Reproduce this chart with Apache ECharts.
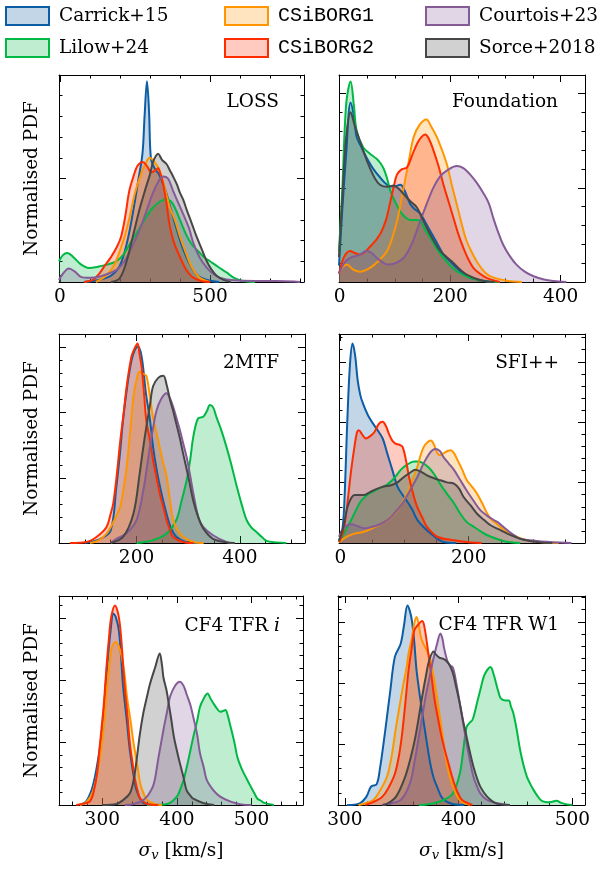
<!DOCTYPE html>
<html><head><meta charset="utf-8">
<script src="https://cdn.jsdelivr.net/npm/echarts@6/dist/echarts.min.js"></script>
<style>html,body{margin:0;padding:0;background:#fff}#c{width:609px;height:871px}</style>
</head><body><div id="c"></div>
<script>
// ---------------- data ----------------
const seriesNames = ['Carrick+15', 'Lilow+24', 'CSiBORG1', 'CSiBORG2', 'Courtois+23', 'Sorce+2018'];
const seriesColors = ['#0C5DA5', '#00B945', '#FF9500', '#FF2C00', '#845B97', '#474747'];
const panelLabels = ['LOSS', 'Foundation', '2MTF', 'SFI++', 'CF4 TFR {i|i}', 'CF4 TFR W1'];
const xMin = [-3, -1, 50, -2, 242, 294];
const xMax = [813, 444, 526, 381, 569, 511];
const xMajorTicks = [[0, 500], [0, 200, 400], [200, 400], [0, 200], [300, 400, 500], [300, 400, 500]];
const xMinorStep = [100, 50, 50, 50, 20, 20];
const yTickStep = [0.1, 0.091, 0.0624, 0.0578, 0.0596, 0.0584];

// LOSS
const loss_carrick = [[80,0],[130,0.01],[170,0.03],[200,0.08],[225,0.2],[245,0.35],[262,0.5],[275,0.62],[282,0.8],[290,0.97],[297,0.82],[303,0.6],[315,0.55],[330,0.52],[350,0.45],[370,0.35],[390,0.25],[410,0.16],[435,0.08],[460,0.03],[490,0.01],[530,0]];
const loss_lilow = [[-3,0.1],[10,0.13],[25,0.14],[45,0.12],[70,0.085],[97,0.068],[130,0.075],[160,0.085],[187,0.1],[210,0.13],[240,0.2],[265,0.26],[290,0.32],[310,0.36],[335,0.39],[355,0.4],[375,0.38],[400,0.3],[420,0.23],[440,0.18],[460,0.15],[480,0.12],[500,0.1],[530,0.07],[556,0.045],[580,0.02],[610,0.005],[650,0]];
const loss_csiborg1 = [[120,0],[153,0.03],[180,0.08],[209,0.19],[230,0.3],[250,0.43],[270,0.52],[285,0.57],[299,0.6],[315,0.58],[332,0.54],[350,0.45],[366,0.36],[383,0.3],[400,0.22],[420,0.14],[440,0.07],[466,0.02],[500,0]];
const loss_csiborg2 = [[80,0],[110,0.01],[131,0.04],[150,0.08],[170,0.12],[190,0.17],[204,0.22],[218,0.32],[231,0.44],[245,0.51],[258,0.56],[276,0.58],[290,0.56],[305,0.53],[318,0.54],[327,0.55],[335,0.52],[343,0.48],[355,0.38],[366,0.27],[380,0.19],[400,0.12],[420,0.06],[440,0.025],[470,0.005],[500,0]];
const loss_courtois = [[-3,0.01],[10,0.04],[30,0.065],[50,0.05],[70,0.025],[100,0.02],[130,0.025],[160,0.04],[190,0.06],[215,0.1],[240,0.17],[265,0.25],[290,0.35],[310,0.43],[330,0.49],[343,0.51],[360,0.5],[377,0.44],[395,0.38],[410,0.33],[430,0.26],[444,0.19],[465,0.12],[489,0.07],[510,0.04],[534,0.02],[580,0.008],[650,0.005],[720,0.005],[780,0.003],[800,0]];
const loss_sorce = [[170,0],[198,0.016],[220,0.09],[243,0.22],[265,0.35],[285,0.45],[300,0.52],[310,0.58],[320,0.61],[327,0.62],[340,0.59],[355,0.57],[366,0.54],[377,0.51],[390,0.47],[400,0.43],[410,0.4],[422,0.35],[440,0.28],[455,0.22],[472,0.16],[489,0.1],[505,0.06],[522,0.03],[545,0.01],[570,0]];

// Foundation
const fnd_carrick = [[-1,0.08],[5,0.35],[12,0.62],[20,0.867],[26,0.8],[31,0.7],[40,0.65],[49,0.6],[60,0.55],[73,0.506],[86,0.47],[98,0.46],[110,0.47],[118,0.44],[128,0.376],[137,0.35],[146,0.33],[155,0.29],[164,0.246],[176,0.19],[188,0.133],[200,0.1],[212,0.068],[224,0.04],[236,0.02],[260,0.005],[280,0]];
const fnd_lilow = [[-1,0.15],[5,0.45],[12,0.86],[20,0.968],[26,0.85],[31,0.73],[43,0.65],[55,0.62],[67,0.595],[75,0.57],[80,0.546],[86,0.5],[92,0.44],[100,0.39],[110,0.34],[120,0.31],[128,0.3],[137,0.3],[146,0.295],[155,0.25],[164,0.214],[176,0.16],[188,0.117],[200,0.08],[212,0.052],[236,0.02],[266,0.003],[290,0]];
const fnd_csiborg1 = [[-1,0.04],[5,0.07],[13,0.084],[25,0.06],[37,0.05],[55,0.068],[70,0.1],[86,0.15],[95,0.21],[104,0.295],[110,0.37],[116,0.457],[125,0.58],[134,0.7],[145,0.76],[157,0.785],[166,0.75],[176,0.7],[185,0.64],[194,0.57],[203,0.47],[212,0.376],[221,0.28],[230,0.198],[240,0.14],[248,0.1],[260,0.055],[272,0.028],[302,0.006],[330,0]];
const fnd_csiborg2 = [[-1,0.04],[8,0.12],[19,0.15],[28,0.14],[37,0.133],[55,0.17],[73,0.23],[84,0.3],[92,0.39],[98,0.46],[104,0.52],[113,0.545],[122,0.554],[131,0.61],[140,0.667],[148,0.7],[155,0.713],[162,0.69],[170,0.635],[179,0.56],[188,0.47],[197,0.39],[206,0.31],[215,0.23],[224,0.165],[233,0.11],[242,0.068],[254,0.04],[266,0.02],[290,0]];
const fnd_courtois = [[-1,0.04],[8,0.09],[19,0.117],[35,0.13],[49,0.15],[58,0.14],[67,0.117],[78,0.095],[86,0.084],[100,0.09],[116,0.117],[130,0.18],[146,0.295],[158,0.38],[170,0.457],[182,0.51],[194,0.538],[212,0.56],[224,0.55],[236,0.52],[248,0.48],[260,0.43],[270,0.38],[278,0.31],[287,0.24],[296,0.18],[308,0.125],[320,0.084],[335,0.05],[351,0.028],[370,0.012],[387,0.005],[410,0]];
const fnd_sorce = [[-1,0.12],[5,0.4],[12,0.7],[20,0.82],[28,0.75],[37,0.68],[46,0.61],[55,0.55],[64,0.5],[73,0.47],[86,0.46],[98,0.466],[107,0.45],[116,0.425],[128,0.39],[140,0.36],[149,0.31],[158,0.26],[170,0.2],[182,0.15],[194,0.12],[206,0.092],[218,0.06],[230,0.036],[254,0.01],[280,0]];

// 2MTF
const mtf_carrick = [[100,0],[130,0.02],[150,0.06],[161,0.27],[168,0.43],[174,0.59],[182,0.75],[190,0.87],[196,0.92],[203,0.94],[210,0.89],[218,0.72],[226,0.59],[232,0.46],[239,0.35],[248,0.24],[258,0.14],[267,0.07],[277,0.03],[295,0.005],[320,0]];
const mtf_lilow = [[200,0],[232,0.013],[258,0.045],[277,0.11],[287,0.2],[297,0.3],[304,0.4],[310,0.51],[319,0.596],[329,0.604],[336,0.63],[342,0.66],[348,0.65],[355,0.6],[364,0.54],[374,0.46],[384,0.37],[394,0.27],[404,0.18],[413,0.11],[422,0.075],[432,0.053],[442,0.03],[452,0.01],[470,0.003],[490,0]];
const mtf_csiborg1 = [[110,0],[125,0.01],[142,0.045],[155,0.1],[168,0.17],[175,0.26],[181,0.364],[188,0.54],[194,0.7],[200,0.78],[206,0.82],[212,0.81],[219,0.8],[226,0.7],[232,0.6],[242,0.49],[250,0.4],[258,0.32],[265,0.2],[271,0.11],[280,0.06],[290,0.03],[310,0.005],[330,0]];
const mtf_csiborg2 = [[71,0],[103,0.005],[123,0.03],[142,0.077],[150,0.14],[155,0.19],[162,0.33],[168,0.476],[175,0.62],[181,0.75],[190,0.89],[196,0.93],[202,0.955],[206,0.9],[210,0.84],[215,0.7],[219,0.585],[226,0.49],[232,0.396],[239,0.31],[245,0.236],[252,0.17],[258,0.11],[265,0.06],[271,0.029],[290,0.005],[310,0]];
const mtf_courtois = [[150,0],[161,0.02],[180,0.045],[200,0.11],[213,0.25],[220,0.36],[226,0.46],[232,0.55],[239,0.636],[248,0.69],[258,0.716],[265,0.69],[271,0.65],[277,0.6],[284,0.54],[290,0.48],[297,0.41],[304,0.32],[310,0.236],[320,0.12],[329,0.077],[348,0.037],[374,0.005],[390,0]];
const mtf_sorce = [[150,0],[174,0.029],[194,0.14],[206,0.33],[212,0.44],[219,0.556],[226,0.66],[232,0.75],[242,0.79],[252,0.8],[258,0.76],[265,0.684],[271,0.63],[277,0.57],[284,0.5],[290,0.43],[300,0.32],[310,0.2],[320,0.12],[329,0.07],[348,0.02],[374,0.003],[390,0]];

// SFI++
const sfi_carrick = [[-2,0.01],[3,0.06],[6,0.17],[11,0.59],[15,0.85],[19,0.955],[23,0.9],[27,0.78],[31,0.71],[35,0.67],[45,0.6],[58,0.54],[66,0.5],[73,0.43],[81,0.35],[89,0.27],[97,0.23],[104,0.2],[112,0.16],[120,0.11],[130,0.075],[141,0.045],[161,0.005],[180,0]];
const sfi_lilow = [[-2,0.005],[5,0.04],[17,0.11],[25,0.16],[32,0.2],[42,0.23],[53,0.25],[63,0.265],[73,0.28],[84,0.31],[94,0.35],[104,0.375],[115,0.39],[122,0.39],[130,0.38],[138,0.36],[146,0.33],[156,0.28],[166,0.236],[177,0.19],[187,0.14],[197,0.1],[208,0.077],[219,0.055],[229,0.037],[254,0.01],[280,0]];
const sfi_csiborg1 = [[-2,0.003],[10,0.03],[22,0.045],[32,0.05],[42,0.06],[53,0.075],[63,0.09],[73,0.11],[84,0.14],[94,0.18],[104,0.236],[112,0.3],[120,0.364],[125,0.42],[130,0.46],[135,0.48],[141,0.49],[146,0.47],[151,0.43],[156,0.42],[161,0.43],[167,0.44],[172,0.444],[177,0.43],[182,0.4],[190,0.35],[197,0.3],[205,0.27],[213,0.236],[221,0.19],[229,0.14],[236,0.11],[244,0.09],[254,0.065],[265,0.045],[278,0.025],[291,0.013],[316,0.003],[340,0]];
const sfi_csiborg2 = [[-2,0.005],[5,0.06],[11,0.19],[17,0.35],[22,0.46],[26,0.53],[29,0.54],[34,0.52],[40,0.5],[46,0.51],[53,0.53],[60,0.57],[66,0.58],[71,0.56],[76,0.52],[81,0.49],[86,0.476],[92,0.47],[97,0.46],[102,0.4],[107,0.316],[113,0.24],[120,0.17],[128,0.12],[135,0.077],[151,0.03],[177,0.013],[203,0.002],[220,0]];
const sfi_courtois = [[-2,0.03],[5,0.07],[17,0.09],[27,0.08],[37,0.07],[47,0.075],[58,0.085],[68,0.1],[79,0.125],[89,0.16],[99,0.2],[110,0.26],[120,0.316],[128,0.37],[135,0.41],[142,0.44],[148,0.45],[155,0.44],[161,0.41],[169,0.38],[177,0.35],[187,0.3],[197,0.25],[208,0.2],[218,0.157],[229,0.13],[239,0.11],[247,0.095],[254,0.077],[267,0.045],[280,0.02],[306,0.01],[342,0.002],[360,0]];
const sfi_sorce = [[-2,0.01],[5,0.08],[11,0.17],[17,0.215],[22,0.23],[30,0.23],[37,0.23],[47,0.245],[58,0.26],[68,0.27],[79,0.276],[89,0.29],[99,0.316],[108,0.335],[117,0.35],[126,0.34],[135,0.324],[146,0.31],[156,0.3],[166,0.29],[177,0.284],[185,0.26],[192,0.22],[203,0.18],[213,0.14],[224,0.11],[234,0.085],[247,0.065],[260,0.045],[272,0.03],[285,0.016],[311,0.003],[330,0]];

// CF4 TFR i
const cfi_carrick = [[270,0],[279,0.02],[288,0.1],[297,0.28],[302,0.45],[306,0.645],[311,0.83],[315,0.916],[318,0.9],[322,0.84],[325,0.72],[328,0.565],[333,0.4],[337,0.26],[342,0.14],[346,0.07],[355,0.01],[370,0]];
const cfi_lilow = [[360,0],[387,0.005],[400,0.04],[405,0.08],[409,0.12],[415,0.21],[422,0.326],[427,0.4],[431,0.47],[436,0.51],[441,0.533],[445,0.51],[449,0.486],[454,0.46],[458,0.446],[462,0.45],[465,0.454],[468,0.43],[472,0.374],[477,0.3],[481,0.23],[486,0.18],[490,0.15],[495,0.115],[499,0.088],[504,0.055],[508,0.03],[513,0.02],[517,0.01],[530,0]];
const cfi_csiborg1 = [[270,0],[279,0.015],[288,0.07],[297,0.23],[302,0.38],[306,0.55],[310,0.68],[313,0.756],[318,0.78],[322,0.76],[326,0.71],[330,0.62],[333,0.52],[338,0.4],[342,0.295],[347,0.19],[351,0.1],[356,0.05],[360,0.024],[370,0.005],[380,0]];
const cfi_csiborg2 = [[265,0],[279,0.01],[284,0.02],[288,0.056],[293,0.15],[297,0.295],[302,0.48],[306,0.677],[309,0.8],[312,0.9],[317,0.955],[321,0.92],[324,0.85],[327,0.72],[330,0.565],[334,0.42],[337,0.295],[341,0.19],[344,0.12],[348,0.06],[351,0.03],[360,0.005],[375,0]];
const cfi_courtois = [[330,0],[342,0.005],[355,0.024],[362,0.05],[369,0.1],[375,0.22],[382,0.36],[387,0.45],[391,0.52],[398,0.573],[404,0.59],[409,0.57],[413,0.53],[418,0.48],[422,0.42],[427,0.34],[431,0.247],[436,0.18],[440,0.12],[449,0.07],[458,0.04],[472,0.016],[486,0.003],[500,0]];
const cfi_sorce = [[300,0],[319,0.005],[328,0.024],[337,0.056],[342,0.12],[346,0.215],[350,0.33],[355,0.44],[360,0.52],[364,0.58],[371,0.66],[377,0.725],[380,0.67],[382,0.61],[386,0.55],[389,0.486],[392,0.42],[396,0.326],[400,0.26],[404,0.2],[409,0.13],[413,0.07],[418,0.045],[422,0.03],[436,0.008],[450,0]];

// CF4 TFR W1
const cfw_carrick = [[302,0],[313,0.008],[319,0.04],[323,0.088],[328,0.1],[331,0.18],[334,0.295],[337,0.42],[340,0.55],[344,0.71],[349,0.77],[352,0.86],[355,0.955],[357,0.93],[359,0.88],[361,0.78],[363,0.645],[366,0.52],[369,0.406],[372,0.3],[375,0.2],[378,0.13],[381,0.088],[386,0.03],[395,0.005],[405,0]];
const cfw_lilow = [[365,0],[375,0.005],[387,0.024],[395,0.056],[401,0.15],[404,0.26],[407,0.374],[410,0.395],[412,0.406],[414,0.44],[416,0.486],[419,0.55],[422,0.613],[425,0.645],[428,0.66],[431,0.62],[433,0.58],[435,0.54],[437,0.51],[441,0.5],[444,0.5],[446,0.47],[448,0.44],[451,0.36],[454,0.263],[457,0.19],[460,0.135],[463,0.1],[466,0.07],[469,0.045],[472,0.024],[476,0.014],[480,0.013],[486,0.02],[490,0.01],[495,0.003],[500,0]];
const cfw_csiborg1 = [[312,0],[316,0.005],[325,0.024],[331,0.07],[337,0.135],[341,0.23],[345,0.374],[348,0.47],[351,0.565],[354,0.65],[356,0.725],[359,0.8],[361,0.868],[363,0.9],[365,0.86],[367,0.8],[370,0.76],[372,0.74],[375,0.7],[377,0.645],[380,0.55],[383,0.44],[386,0.33],[389,0.215],[392,0.14],[395,0.088],[401,0.024],[410,0]];
const cfw_csiborg2 = [[318,0],[321,0.005],[333,0.04],[343,0.135],[347,0.22],[350,0.326],[353,0.48],[356,0.645],[359,0.76],[361,0.836],[364,0.86],[368,0.88],[370,0.85],[373,0.74],[376,0.62],[379,0.5],[382,0.41],[385,0.326],[388,0.26],[391,0.2],[394,0.14],[397,0.088],[400,0.05],[403,0.024],[412,0]];
const cfw_courtois = [[333,0],[337,0.005],[349,0.024],[357,0.1],[361,0.2],[365,0.326],[368,0.42],[371,0.52],[374,0.6],[377,0.68],[381,0.77],[384,0.82],[386,0.79],[387,0.756],[390,0.69],[392,0.67],[395,0.656],[398,0.58],[401,0.486],[404,0.39],[407,0.295],[410,0.21],[413,0.135],[416,0.09],[419,0.056],[425,0.024],[433,0.01],[445,0]];
const cfw_sorce = [[333,0],[337,0.005],[345,0.04],[353,0.135],[358,0.23],[362,0.326],[365,0.42],[368,0.52],[371,0.61],[374,0.69],[378,0.735],[380,0.72],[383,0.705],[386,0.7],[389,0.69],[392,0.67],[395,0.63],[398,0.56],[401,0.486],[404,0.4],[407,0.326],[410,0.25],[413,0.183],[416,0.13],[419,0.088],[425,0.04],[433,0.008],[445,0]];

const panelCurves = [
  [loss_carrick, loss_lilow, loss_csiborg1, loss_csiborg2, loss_courtois, loss_sorce],
  [fnd_carrick, fnd_lilow, fnd_csiborg1, fnd_csiborg2, fnd_courtois, fnd_sorce],
  [mtf_carrick, mtf_lilow, mtf_csiborg1, mtf_csiborg2, mtf_courtois, mtf_sorce],
  [sfi_carrick, sfi_lilow, sfi_csiborg1, sfi_csiborg2, sfi_courtois, sfi_sorce],
  [cfi_carrick, cfi_lilow, cfi_csiborg1, cfi_csiborg2, cfi_courtois, cfi_sorce],
  [cfw_carrick, cfw_lilow, cfw_csiborg1, cfw_csiborg2, cfw_courtois, cfw_sorce]
];

// ---------------- layout / style ----------------
const SERIF = 'DejaVu Serif';
const MONO = 'Liberation Mono';
const FS = 18.5;
const grids = [
  {left: 59, top: 75, width: 245, height: 207},
  {left: 339, top: 75, width: 246, height: 207},
  {left: 59, top: 334, width: 246, height: 209},
  {left: 339, top: 334, width: 246, height: 209},
  {left: 59, top: 596, width: 244, height: 209},
  {left: 338, top: 596, width: 247, height: 209}
];
const labelPos = [
  {right: 330, top: 93}, {right: 51, top: 93},
  {right: 330, top: 354}, {right: 50, top: 354},
  {right: 329, top: 617}, {right: 50, top: 616}
];

function minorTicks(lo, hi, step, majors) {
  const out = [];
  const start = Math.ceil(lo / step) * step;
  for (let v = start; v <= hi + 1e-9; v += step) {
    const r = Math.round(v * 1e6) / 1e6;
    if (!majors.some(m => Math.abs(m - r) < 1e-6)) out.push(r);
  }
  return out;
}

const xAxes = [], yAxes = [], series = [], titles = [];
const black = '#000';
const xName = '{s|σ}{v|v} [km/s]';

grids.forEach((g, i) => {
  const xmaj = xMajorTicks[i];
  const xmin = minorTicks(xMin[i], xMax[i], xMinorStep[i], xmaj);
  const ystep = yTickStep[i];
  const ymajAll = [], yminAll = [];
  for (let k = 0; k * ystep <= 1.0001; k++) {
    const v = Math.round(k * ystep * 1e6) / 1e6;
    if (k % 5 === 0) ymajAll.push(v); else yminAll.push(v);
  }
  const baseX = {
    gridIndex: i, type: 'value', min: xMin[i], max: xMax[i],
    splitLine: {show: false}, axisLabel: {show: false}
  };
  const baseY = {
    gridIndex: i, type: 'value', min: 0, max: 1,
    splitLine: {show: false}, axisLabel: {show: false}
  };
  ['bottom', 'top'].forEach((pos, j) => {
    const major = Object.assign({}, baseX, {
      position: pos,
      axisLine: {show: true, onZero: false, lineStyle: {color: black, width: 1}},
      axisTick: {show: true, inside: true, length: 7, customValues: xmaj, lineStyle: {color: black, width: 1}}
    });
    if (j === 0) {
      major.axisLabel = {show: true, customValues: xmaj, color: black, fontFamily: SERIF, fontSize: FS, margin: 6};
      if (i >= 4) {
        major.name = xName;
        major.nameLocation = 'middle';
        major.nameGap = 35;
        major.nameTextStyle = {color: black, fontFamily: SERIF, fontSize: FS,
          rich: {s: {fontFamily: SERIF, fontSize: FS, fontStyle: 'italic', color: black},
                 v: {fontFamily: SERIF, fontSize: 13, fontStyle: 'italic', color: black, verticalAlign: 'bottom', padding: [9, 0, 0, 0]}}};
      }
    }
    xAxes.push(major);
    xAxes.push(Object.assign({}, baseX, {
      position: pos,
      axisLine: {show: false, onZero: false},
      axisTick: {show: true, inside: true, length: 3.5, customValues: xmin, lineStyle: {color: black, width: 1}}
    }));
  });
  ['left', 'right'].forEach((pos, j) => {
    const major = Object.assign({}, baseY, {
      position: pos,
      axisLine: {show: true, onZero: false, lineStyle: {color: black, width: 1}},
      axisTick: {show: true, inside: true, length: 7, customValues: ymajAll, lineStyle: {color: black, width: 1}}
    });
    if (j === 0 && i % 2 === 0) {
      major.name = 'Normalised PDF';
      major.nameLocation = 'middle';
      major.nameRotate = 90;
      major.nameGap = 17;
      major.nameTextStyle = {color: black, fontFamily: SERIF, fontSize: FS};
    }
    yAxes.push(major);
    yAxes.push(Object.assign({}, baseY, {
      position: pos,
      axisLine: {show: false, onZero: false},
      axisTick: {show: true, inside: true, length: 3.5, customValues: yminAll, lineStyle: {color: black, width: 1}}
    }));
  });

  panelCurves[i].forEach((curve, s) => {
    series.push({
      name: seriesNames[s], type: 'line',
      xAxisIndex: i * 4, yAxisIndex: i * 4,
      data: curve, smooth: 0.35, showSymbol: false, symbol: 'none',
      lineStyle: {color: seriesColors[s], width: 2},
      itemStyle: {color: seriesColors[s]},
      areaStyle: {color: seriesColors[s], opacity: 0.25},
      silent: true, animation: false, z: 2
    });
  });

  titles.push({
    text: panelLabels[i], right: labelPos[i].right, top: labelPos[i].top, padding: 0,
    textStyle: {color: black, fontFamily: SERIF, fontSize: FS, fontWeight: 'normal',
      rich: {i: {fontFamily: SERIF, fontSize: FS, fontStyle: 'italic', color: black}}}
  });
});

function fillOf(hex) {
  const r = parseInt(hex.slice(1, 3), 16), g = parseInt(hex.slice(3, 5), 16), b = parseInt(hex.slice(5, 7), 16);
  return 'rgba(' + r + ',' + g + ',' + b + ',0.25)';
}
function legendCol(idxs, left, font, fs) {
  return {
    orient: 'vertical', left: left, top: 6, padding: 0,
    itemWidth: 43, itemHeight: 18, itemGap: 12, icon: 'rect', selectedMode: false,
    textStyle: {color: black, fontFamily: font, fontSize: fs, padding: [0, 0, 0, 5]},
    data: idxs.map(k => ({
      name: seriesNames[k], icon: 'rect',
      itemStyle: {color: fillOf(seriesColors[k]), borderColor: seriesColors[k], borderWidth: 2},
      lineStyle: {width: 0}
    }))
  };
}

const option = {
  animation: false,
  backgroundColor: '#fff',
  title: titles,
  legend: [legendCol([0, 1], 5, SERIF, FS), legendCol([2, 3], 224, MONO, 20), legendCol([4, 5], 425, SERIF, FS)],
  grid: grids,
  xAxis: xAxes,
  yAxis: yAxes,
  series: series
};
const chart = echarts.init(document.getElementById('c'), null, {renderer: 'canvas'});
chart.setOption(option);
</script>
</body></html>
